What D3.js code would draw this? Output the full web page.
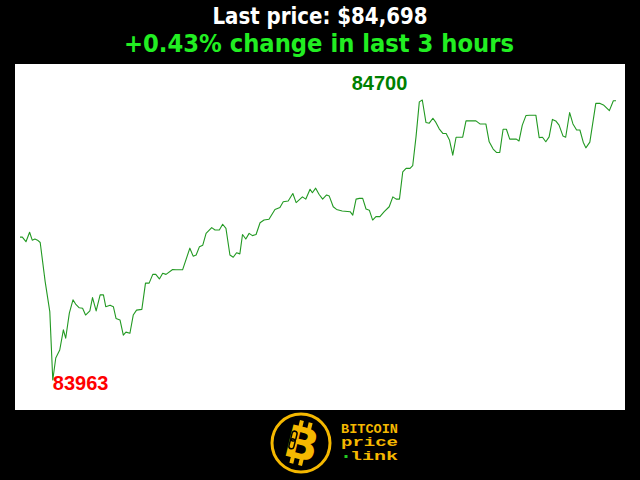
<!DOCTYPE html>
<html>
<head>
<meta charset="utf-8">
<script src="https://cdn.jsdelivr.net/npm/d3@7"></script>
<style>
  html, body { margin: 0; padding: 0; background: #000; }
  svg { display: block; }
</style>
</head>
<body>
<svg id="chart" width="640" height="480"></svg>
<script>
// minutes since start of the 3 hour window
const minutes = [0, 0.7, 1.8, 2.9, 3.7, 4.5, 5.3, 6.1, 7.6, 9.0, 9.9, 10.8, 12.0, 13.1, 13.8, 14.9,
    16.0, 16.8, 17.9, 18.9, 19.8, 21.1, 21.9, 23.0, 24.2, 25.2, 25.9, 27.2, 28.2, 29.0, 30.2,
    31.2, 32.0, 33.2, 34.2, 35.2, 36.8, 37.9, 39.0, 40.1, 41.0, 42.1, 43.1, 44.1, 46.1, 47.1,
    49.1, 51.3, 52.3, 53.2, 54.2, 55.2, 56.2, 57.9, 58.9, 60.2, 61.2, 62.2, 63.4, 64.4, 65.4,
    66.4, 67.2, 68.2, 69.2, 70.2, 71.3, 72.5, 73.7, 75.2, 77.0, 78.5, 79.5, 81.0, 82.4, 83.4,
    85.3, 86.3, 87.6, 88.3, 89.3, 90.3, 91.4, 92.6, 93.4, 94.6, 95.6, 97.3, 99.7, 100.5, 101.5,
    102.5, 103.5, 104.5, 105.5, 106.5, 107.5, 108.7, 110.0, 111.5, 112.6, 113.6, 114.6, 115.6,
    116.6, 117.8, 118.6, 119.6, 120.6, 121.5, 122.6, 123.6, 124.7, 125.6, 126.6, 127.7, 128.7,
    129.7, 130.7, 131.7, 133.7, 134.7, 137.7, 138.9, 140.7, 141.7, 142.9, 143.9, 144.9, 145.9,
    146.9, 147.9, 149.9, 150.7, 151.7, 152.8, 154.0, 155.8, 156.8, 157.8, 158.8, 159.8, 160.8,
    161.8, 162.8, 164.0, 164.8, 166.0, 167.0, 168.1, 169.1, 170.1, 170.9, 172.1, 173.9, 175.2,
    176.2, 178.0, 179.2, 180];

// BTC price in USD
const prices = [84339, 84339, 84327, 84352, 84331, 84334, 84331, 84325, 84222, 84143, 83963, 84021,
    84042, 84095, 84073, 84139, 84174, 84163, 84153, 84152, 84134, 84145, 84180, 84145, 84187,
    84187, 84156, 84160, 84156, 84125, 84121, 84081, 84089, 84086, 84134, 84147, 84149, 84218,
    84218, 84241, 84241, 84229, 84244, 84241, 84254, 84253, 84253, 84310, 84289, 84292, 84314,
    84318, 84349, 84364, 84358, 84358, 84373, 84362, 84292, 84286, 84298, 84295, 84346, 84334,
    84349, 84343, 84346, 84377, 84384, 84386, 84412, 84417, 84432, 84434, 84454, 84430, 84445,
    84439, 84465, 84456, 84468, 84452, 84439, 84450, 84447, 84419, 84412, 84408, 84406, 84397,
    84439, 84441, 84441, 84413, 84410, 84384, 84393, 84393, 84406, 84419, 84445, 84439, 84439,
    84511, 84520, 84520, 84527, 84603, 84695, 84700, 84641, 84639, 84652, 84641, 84624, 84612,
    84612, 84595, 84555, 84602, 84602, 84645, 84645, 84637, 84637, 84590, 84571, 84562, 84562,
    84623, 84623, 84597, 84597, 84592, 84634, 84659, 84660, 84660, 84601, 84602, 84590, 84603,
    84649, 84645, 84634, 84605, 84602, 84667, 84637, 84621, 84621, 84589, 84574, 84589, 84691,
    84691, 84687, 84672, 84698, 84698];

const titleLines = ["Last price: $84,698", "+0.43% change in last 3 hours"];
const logoWords = ["BITCOIN", "price", "link"];

const svg = d3.select("#chart");

svg.append("rect")
    .attr("width", 640).attr("height", 480)
    .attr("fill", "#000");

// headings
svg.append("text")
    .attr("x", 320).attr("y", 23.5)
    .attr("text-anchor", "middle")
    .attr("font-family", "'DejaVu Sans'")
    .attr("font-stretch", "condensed")
    .attr("font-weight", "bold")
    .attr("font-size", 23)
    .attr("fill", "#fff")
    .attr("textLength", 215)
    .attr("lengthAdjust", "spacingAndGlyphs")
    .text(titleLines[0]);

svg.append("text")
    .attr("x", 319).attr("y", 52)
    .attr("text-anchor", "middle")
    .attr("font-family", "'DejaVu Sans'")
    .attr("font-stretch", "condensed")
    .attr("font-weight", "bold")
    .attr("font-size", 25)
    .attr("fill", "#22ee22")
    .attr("textLength", 390)
    .attr("lengthAdjust", "spacingAndGlyphs")
    .text(titleLines[1]);

// plot panel
svg.append("rect")
    .attr("x", 15).attr("y", 64)
    .attr("width", 610).attr("height", 346)
    .attr("fill", "#fff");

const data = minutes.map((m, i) => ({ t: m, p: prices[i] }));

const x = d3.scaleLinear()
    .domain(d3.extent(minutes))
    .range([20, 616]);

const y = d3.scaleLinear()
    .domain(d3.extent(prices))
    .range([380, 100]);

const line = d3.line()
    .x(d => x(d.t))
    .y(d => y(d.p));

svg.append("path")
    .datum(data)
    .attr("fill", "none")
    .attr("stroke", "#229922")
    .attr("stroke-width", 1.1)
    .attr("stroke-linejoin", "round")
    .attr("d", line);

// min / max labels
const minPt = data[d3.minIndex(data, d => d.p)];
const maxPt = data[d3.maxIndex(data, d => d.p)];

svg.append("text")
    .attr("x", x(minPt.t)).attr("y", y(minPt.p) + 10)
    .attr("font-family", "'Liberation Sans', Arial, sans-serif")
    .attr("font-weight", "bold")
    .attr("font-size", 20)
    .attr("fill", "#ff0000")
    .text(minPt.p);

svg.append("text")
    .attr("x", x(maxPt.t) - 15).attr("y", y(maxPt.p) - 10)
    .attr("text-anchor", "end")
    .attr("font-family", "'Liberation Sans', Arial, sans-serif")
    .attr("font-weight", "bold")
    .attr("font-size", 20)
    .attr("fill", "#008000")
    .text(maxPt.p);

// logo
const gold = "#f5b800";
const logo = svg.append("g").attr("transform", "translate(301,443)");

logo.append("circle")
    .attr("r", 29)
    .attr("fill", "#000")
    .attr("stroke", gold)
    .attr("stroke-width", 3);

const bMark = logo.append("g").attr("transform", "rotate(14)");
[-5, 4].forEach(dx => {
    bMark.append("rect").attr("x", dx - 1.5).attr("y", -22).attr("width", 4).attr("height", 8).attr("fill", gold);
    bMark.append("rect").attr("x", dx - 1.5).attr("y", 14).attr("width", 4).attr("height", 8).attr("fill", gold);
});
bMark.append("text")
    .attr("x", 1).attr("y", 16)
    .attr("text-anchor", "middle")
    .attr("font-family", "'DejaVu Sans'")
    .attr("font-weight", "bold")
    .attr("font-size", 44)
    .attr("fill", gold)
    .text("B");
// chain link on the stem
bMark.append("rect")
    .attr("x", -11).attr("y", -10).attr("width", 5).attr("height", 10).attr("rx", 2.5)
    .attr("fill", "none").attr("stroke", "#000").attr("stroke-width", 1.5);
bMark.append("rect")
    .attr("x", -11).attr("y", -2).attr("width", 5).attr("height", 10).attr("rx", 2.5)
    .attr("fill", "none").attr("stroke", "#000").attr("stroke-width", 1.5);

svg.selectAll(".logo-word")
    .data(logoWords)
    .enter().append("text")
    .attr("class", "logo-word")
    .attr("x", (d, i) => i === 2 ? 350 : 341)
    .attr("y", (d, i) => 432.5 + i * 13.5)
    .attr("font-family", "'Liberation Mono', 'DejaVu Sans Mono', monospace")
    .attr("font-weight", "bold")
    .attr("font-size", 12)
    .attr("fill", gold)
    .attr("textLength", (d, i) => i === 0 ? 57 : (i === 1 ? 57 : 48))
    .attr("lengthAdjust", "spacingAndGlyphs")
    .text(d => d);

svg.append("rect")
    .attr("x", 344.5).attr("y", 455).attr("width", 3).attr("height", 3)
    .attr("fill", "#22cc22");
</script>
</body>
</html>
